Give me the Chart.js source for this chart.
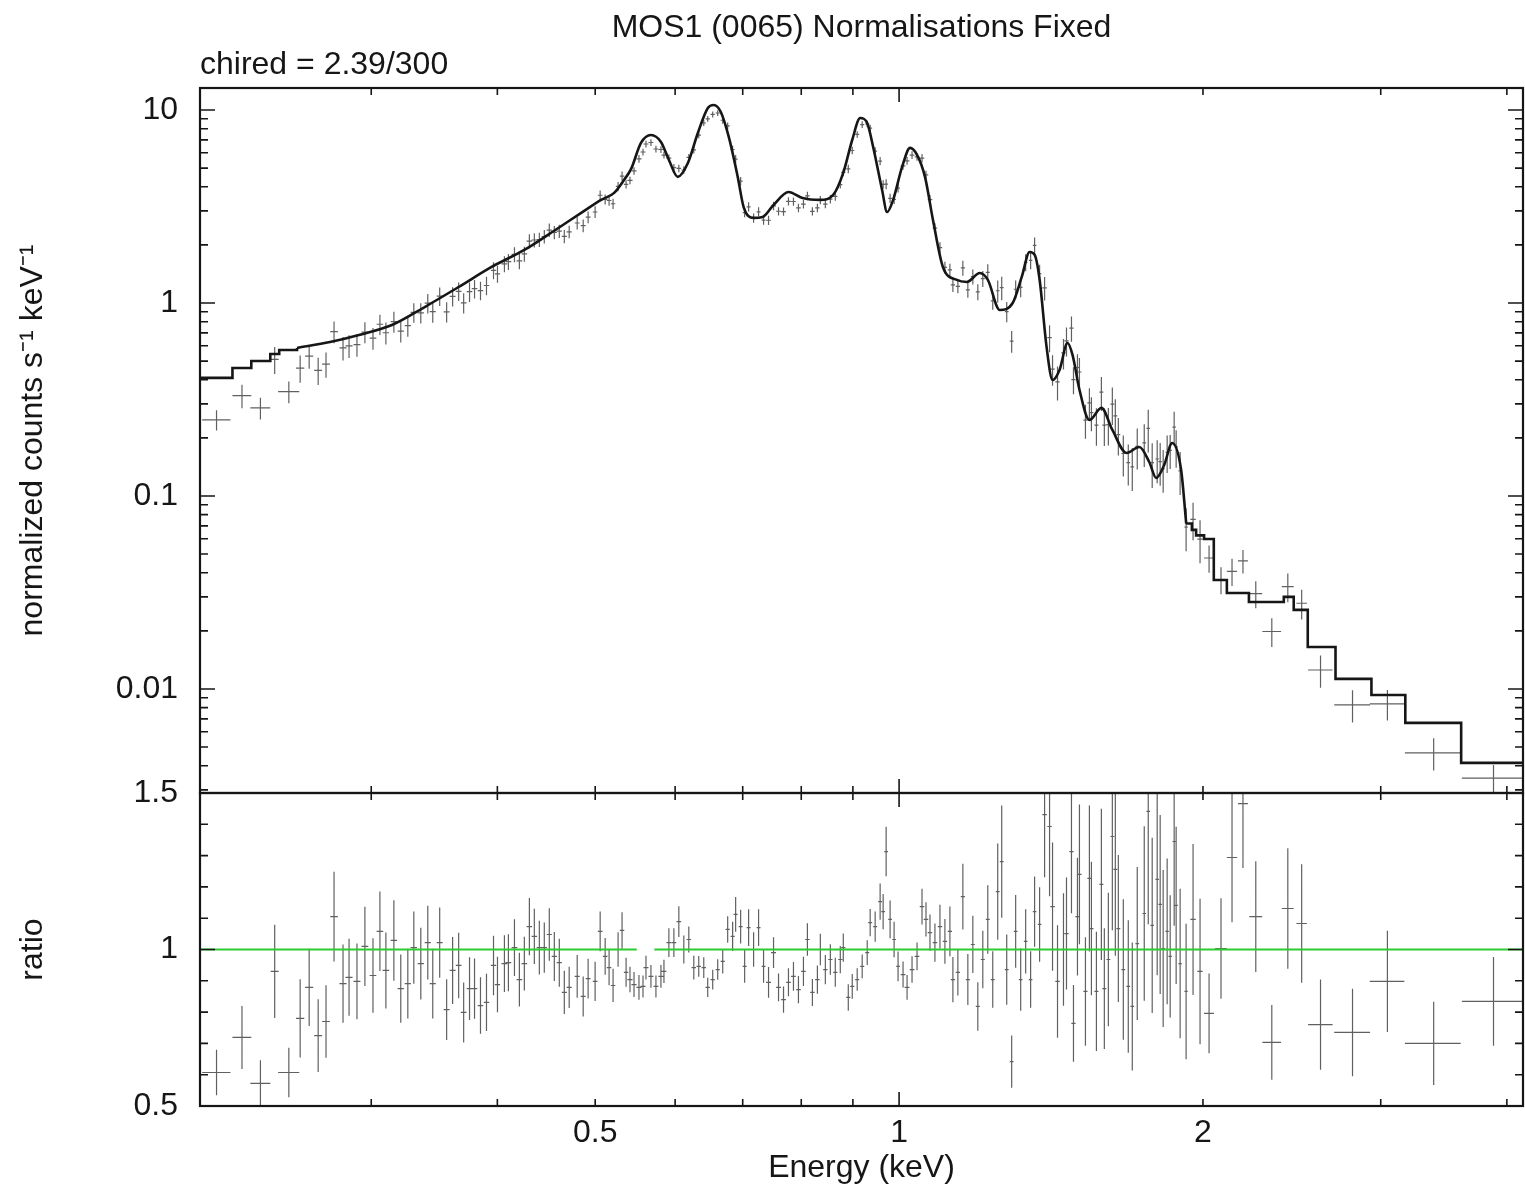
<!DOCTYPE html>
<html>
<head>
<meta charset="utf-8">
<script src="https://cdn.jsdelivr.net/npm/chart.js@4.4.1/dist/chart.umd.min.js"></script>
<style>
  html, body { margin: 0; padding: 0; background: #ffffff; }
  #wrap { width: 1525px; height: 1191px; position: relative; }
</style>
</head>
<body>
<div id="wrap"><canvas id="c" width="1525" height="1191"></canvas></div>
<script>
// ---------------- DATA ----------------
// Bin centre energies (keV)
const energy = [
  0.2108,0.2234,0.2330,0.2407,0.2486,0.2551,0.2604,0.2658,0.2706,0.2756,
  0.2813,0.2852,0.2904,0.2957,0.3012,0.3060,0.3102,0.3159,0.3209,0.3261,
  0.3306,0.3359,0.3413,0.3452,0.3507,0.3563,0.3612,0.3662,0.3704,0.3754,
  0.3797,0.3849,0.3902,0.3965,0.4001,0.4065,0.4102,0.4159,0.4206,0.4254,
  0.4303,0.4352,0.4402,0.4452,0.4503,0.4555,0.4607,0.4660,0.4712,0.4799,
  0.4865,0.4920,0.4999,0.5057,0.5115,0.5161,0.5208,0.5268,0.5316,0.5365,
  0.5413,0.5463,0.5525,0.5576,0.5614,0.5678,0.5743,0.5809,0.5849,0.5915,
  0.5983,0.6051,0.6120,0.6190,0.6261,0.6332,0.6405,0.6463,0.6537,0.6612,
  0.6688,0.6764,0.6841,0.6888,0.6967,0.7031,0.7095,0.7176,0.7258,0.7341,
  0.7425,0.7510,0.7596,0.7683,0.7770,0.7859,0.7949,0.8040,0.8113,0.8206,
  0.8300,0.8356,0.8452,0.8549,0.8646,0.8745,0.8805,0.8906,0.8987,0.9089,
  0.9193,0.9299,0.9362,0.9469,0.9577,0.9643,0.9709,0.9797,0.9887,0.9977,
  1.0091,1.0184,1.0300,1.0418,1.0537,1.0633,1.0730,1.0852,1.0977,1.1102,
  1.1229,1.1306,1.1435,1.1566,1.1698,1.1832,1.1967,1.2104,1.2242,1.2382,
  1.2523,1.2638,1.2783,1.2928,1.3046,1.3196,1.3347,1.3499,1.3622,1.3778,
  1.3936,1.4095,1.4191,1.4353,1.4550,1.4650,1.4817,1.4885,1.5021,1.5089,
  1.5297,1.5436,1.5507,1.5685,1.5863,1.5971,1.6118,1.6265,1.6376,1.6489,
  1.6677,1.6867,1.7022,1.7216,1.7493,1.7653,1.7813,1.8017,1.8140,1.8264,
  1.8431,1.8559,1.8728,1.8813,1.8985,1.9245,1.9553,1.9867,2.028,2.084,
  2.137,2.191,2.256,2.340,2.427,2.505,2.615,2.813,3.046,3.385,3.880
];
// Half bin width (keV)
const energyErr = [
  0.0068,0.0048,0.0053,0.0022,0.0060,0.0024,0.0024,0.0024,0.0024,0.0024,
  0.0023,0.0023,0.0023,0.0023,0.0023,0.0023,0.0023,0.0023,0.0023,0.0023,
  0.0024,0.0024,0.0024,0.0024,0.0024,0.0024,0.0024,0.0024,0.0024,0.0024,
  0.0024,0.0024,0.0024,0.0024,0.0024,0.0027,0.0027,0.0027,0.0027,0.0027,
  0.0027,0.0027,0.0027,0.0027,0.0027,0.0027,0.0027,0.0027,0.0027,0.0027,
  0.0027,0.0027,0.0027,0.0027,0.0027,0.0027,0.0027,0.0027,0.0027,0.0027,
  0.0032,0.0032,0.0032,0.0032,0.0032,0.0032,0.0032,0.0032,0.0032,0.0032,
  0.0032,0.0032,0.0032,0.0032,0.0032,0.0032,0.0032,0.0032,0.0032,0.0032,
  0.0032,0.0032,0.0032,0.0032,0.0032,0.0032,0.0032,0.0032,0.0032,0.0032,
  0.0042,0.0042,0.0042,0.0042,0.0042,0.0042,0.0042,0.0042,0.0042,0.0042,
  0.0042,0.0042,0.0042,0.0042,0.0042,0.0042,0.0042,0.0042,0.0042,0.0042,
  0.0042,0.0042,0.0042,0.0042,0.0042,0.0042,0.0042,0.0042,0.0042,0.0042,
  0.0055,0.0055,0.0055,0.0055,0.0055,0.0055,0.0055,0.0055,0.0055,0.0055,
  0.0055,0.0055,0.0055,0.0055,0.0055,0.0055,0.0055,0.0055,0.0055,0.0055,
  0.0055,0.0055,0.0055,0.0055,0.0055,0.0055,0.0055,0.0055,0.0055,0.0055,
  0.0072,0.0072,0.0072,0.0072,0.0072,0.0072,0.0072,0.0072,0.0072,0.0072,
  0.0072,0.0072,0.0072,0.0072,0.0072,0.0072,0.0072,0.0072,0.0072,0.0072,
  0.0072,0.0072,0.0072,0.0072,0.0072,0.0072,0.0072,0.0072,0.0072,0.0072,
  0.0072,0.0072,0.0072,0.0072,0.0072,0.0072,0.012,0.012,0.023,0.028,
  0.025,0.025,0.033,0.050,0.033,0.030,0.073,0.115,0.120,0.215,0.270
];
// Normalized counts s^-1 keV^-1 (upper panel crosses)
const counts = [
  0.248,0.331,0.286,0.510,0.347,0.460,0.530,0.448,0.482,0.710,
  0.585,0.600,0.609,0.706,0.657,0.776,0.701,0.801,0.714,0.763,
  0.893,0.889,0.998,0.902,1.085,0.900,1.083,1.149,1.002,1.144,
  1.186,1.160,1.232,1.476,1.414,1.595,1.639,1.784,1.652,1.797,
  2.094,2.120,2.133,2.211,2.387,2.322,2.358,2.215,2.338,2.596,
  2.517,2.784,2.961,3.615,3.443,3.397,3.268,4.015,4.548,4.120,
  4.315,4.833,5.586,6.058,6.665,6.783,6.279,6.240,5.840,5.629,
  5.025,4.984,4.888,5.684,6.207,7.407,8.563,9.003,9.482,9.645,
  8.850,8.282,6.240,5.568,4.282,2.939,3.150,2.757,2.968,2.688,
  2.683,3.187,2.987,2.976,3.365,3.356,3.107,3.254,3.591,2.985,
  3.108,3.418,3.256,3.450,3.569,4.101,4.745,4.951,6.169,7.469,
  8.397,8.477,8.059,6.126,5.438,4.116,4.128,3.486,3.444,3.937,
  5.128,5.454,5.843,5.716,5.625,4.616,3.434,2.442,1.937,1.530,
  1.486,1.240,1.220,1.520,1.169,1.369,1.143,1.336,1.442,1.025,
  1.157,1.200,0.903,0.634,1.178,1.204,1.624,1.661,1.988,1.421,
  1.197,0.661,0.454,0.390,0.551,0.637,0.741,0.401,0.463,0.439,
  0.2474,0.304,0.2706,0.2331,0.345,0.2327,0.234,0.299,0.260,0.208,
  0.166,0.149,0.1416,0.1806,0.1885,0.224,0.1487,0.1554,0.1505,0.1384,
  0.1685,0.1723,0.2274,0.1795,0.1350,0.0690,0.0757,0.0598,0.0477,0.0368,
  0.0407,0.0461,0.0312,0.01985,0.0339,0.0278,0.01254,0.00828,0.00836,0.00467,0.00345
];
// Data / model ratio (lower panel crosses)
const ratio = [
  0.607,0.719,0.572,0.930,0.607,0.780,0.879,0.725,0.770,1.105,
  0.891,0.911,0.898,1.010,0.917,1.058,0.933,1.029,0.875,0.891,
  1.006,0.955,1.022,0.891,1.022,0.808,0.933,0.949,0.799,0.875,
  0.875,0.821,0.831,0.949,0.888,0.955,0.958,1.006,0.904,0.955,
  1.073,1.042,1.006,1.006,1.048,0.978,0.958,0.863,0.879,0.914,
  0.850,0.907,0.898,1.058,0.978,0.942,0.885,1.000,1.061,0.927,
  0.904,0.888,0.879,0.882,0.942,0.914,0.882,0.914,0.930,1.022,
  1.022,1.089,1.000,1.032,0.942,0.946,0.942,0.879,0.904,0.936,
  0.962,1.064,1.042,1.112,1.073,0.946,1.070,1.000,1.070,0.946,
  0.895,0.990,0.879,0.840,0.895,0.914,0.872,0.930,1.032,0.863,
  0.904,1.000,0.936,0.968,0.927,0.968,1.006,0.847,0.882,0.904,
  0.946,0.990,1.086,1.073,1.153,1.121,1.313,1.096,1.032,0.946,
  0.920,0.879,0.936,0.978,1.137,1.096,1.054,1.022,1.073,1.026,
  1.058,0.904,0.927,1.169,0.904,1.016,0.818,0.968,1.096,0.904,
  1.185,1.281,0.936,0.642,1.058,0.904,1.026,0.904,1.121,1.080,
  1.431,1.393,1.137,0.898,1.000,1.051,1.313,0.764,1.105,1.240,
  0.866,1.227,1.067,0.866,1.208,0.875,0.968,1.361,1.256,1.067,
  0.936,0.882,0.818,1.019,1.115,1.441,1.077,1.224,1.144,1.003,
  1.058,0.978,1.345,1.141,0.955,0.866,1.096,0.930,0.796,1.003,
  1.294,1.466,1.105,0.703,1.131,1.083,0.760,0.735,0.898,0.700,0.834
];
// Fractional 1-sigma error of each bin (same for both panels)
const relErr = [
  0.12,0.14,0.13,0.16,0.13,0.16,0.14,0.16,0.15,0.13,
  0.14,0.135,0.135,0.125,0.13,0.12,0.13,0.125,0.125,0.125,
  0.115,0.12,0.115,0.125,0.11,0.12,0.115,0.11,0.12,0.115,
  0.11,0.11,0.11,0.10,0.10,0.095,0.095,0.09,0.095,0.09,
  0.085,0.085,0.085,0.08,0.08,0.08,0.08,0.08,0.075,0.075,
  0.075,0.07,0.07,0.06,0.06,0.06,0.06,0.055,0.055,0.05,
  0.045,0.045,0.045,0.04,0.04,0.04,0.04,0.04,0.04,0.045,
  0.045,0.045,0.045,0.04,0.04,0.035,0.035,0.035,0.035,0.035,
  0.04,0.04,0.045,0.05,0.05,0.055,0.055,0.055,0.055,0.055,
  0.055,0.05,0.05,0.05,0.05,0.05,0.05,0.05,0.05,0.05,
  0.05,0.05,0.05,0.05,0.05,0.045,0.045,0.05,0.045,0.04,
  0.04,0.04,0.04,0.045,0.05,0.05,0.06,0.055,0.055,0.05,
  0.045,0.045,0.045,0.045,0.05,0.05,0.055,0.06,0.065,0.07,
  0.075,0.08,0.08,0.09,0.09,0.09,0.095,0.095,0.10,0.10,
  0.13,0.14,0.12,0.13,0.11,0.11,0.10,0.10,0.10,0.11,
  0.14,0.16,0.18,0.20,0.18,0.17,0.15,0.16,0.17,0.18,
  0.20,0.19,0.20,0.22,0.20,0.22,0.22,0.22,0.22,0.22,
  0.24,0.24,0.25,0.24,0.25,0.25,0.26,0.25,0.25,0.25,
  0.22,0.20,0.20,0.22,0.25,0.25,0.22,0.25,0.16,0.16,
  0.16,0.14,0.16,0.17,0.17,0.175,0.19,0.19,0.18,0.19,0.17
];
// Model: wide low-energy bins (left edges + value), drawn as steps
const modelLoEdges  = [0.2032, 0.2186, 0.2282, 0.2383, 0.2432, 0.2533];
const modelLoValues = [0.409, 0.460, 0.5005, 0.544, 0.571, 0.585];
// Model: finely binned middle part
const modelMidE = [
  0.2533,0.2731,0.2917,0.3145,0.3389,0.3662,0.3948,0.4254,0.4597,0.4843,
  0.5068,0.5221,0.5340,0.5427,0.5550,0.5678,0.5809,0.5916,0.6036,0.6177,
  0.6319,0.6465,0.6553,0.6659,0.6781,0.6921,0.7015,0.7176,0.7325,0.7510,
  0.7771,0.8021,0.8354,0.8605,0.8804,0.8986,0.9152,0.9298,0.9426,0.9620,
  0.9731,0.9865,1.0069,1.0254,1.0418,1.0609,1.0804,1.1051,1.1410,1.1671,
  1.2023,1.2244,1.2581,1.2958,1.3226,1.3469,1.3625,1.3780,1.3999,1.4191,
  1.4419,1.4684,1.4853,1.5092,1.5437,1.5865,1.6267,1.6797,1.7298,1.7693,
  1.7977,1.8307,1.8643,1.9028,1.925
];
const modelMidV = [
  0.585,0.628,0.683,0.769,0.953,1.210,1.537,1.882,2.447,2.930,
  3.420,3.720,4.340,4.950,6.750,7.420,6.830,5.510,4.500,5.310,
  7.600,10.24,10.61,9.76,7.25,4.50,3.14,2.76,2.79,3.22,
  3.76,3.50,3.42,3.63,4.72,6.99,9.09,8.56,6.43,3.85,
  2.96,3.42,5.07,6.36,5.85,4.50,2.69,1.537,1.316,1.285,
  1.430,1.316,0.920,1.000,1.360,1.837,1.773,1.316,0.592,0.399,
  0.450,0.620,0.538,0.354,0.2476,0.286,0.2198,0.167,0.1794,0.150,
  0.124,0.1447,0.1882,0.1364,0.072
];
// Model: wide high-energy bins (left edges + value), drawn as steps
const modelHiEdges  = [1.925, 1.950, 1.969, 2.005, 2.050, 2.112, 2.221, 2.405, 2.460, 2.540, 2.706, 2.937, 3.173, 3.604, 4.150];
const modelHiValues = [0.0720, 0.0667, 0.0625, 0.0598, 0.0367, 0.0314, 0.0282, 0.0300, 0.0257, 0.0165, 0.01128, 0.00931, 0.00667, 0.00414, 0.00414];
// Unity line of the ratio panel (with the short break seen in the picture)
const unityE = [0.203, 0.5497, 0.5600, 0.5722, 4.15];
const unityV = [1, 1, null, 1, 1];

// Axis ranges & ticks
const xMin = 0.203, xMax = 4.15;
const yMin = 0.00289, yMax = 13.0;
const rMin = 0.5, rMax = 1.5;
const xTickValues = [0.3, 0.4, 0.5, 0.6, 0.7, 0.8, 0.9, 1, 2, 3, 4];
const xTickLabels = { '0.5': '0.5', '1': '1', '2': '2' };
const xMajorTicks = [1];
const yTickValues = [10, 1, 0.1, 0.01];
const yTickLabels = ['10', '1', '0.1', '0.01'];
const ratioTickValues = [1.5, 1, 0.5];
const ratioTickLabels = ['1.5', '1', '0.5'];

const titleText = 'MOS1 (0065) Normalisations Fixed';
const subtitleText = 'chired = 2.39/300';
const xTitle = 'Energy (keV)';
const yTitle = 'normalized counts s\u207B\u00B9 keV\u207B\u00B9';
const rTitle = 'ratio';

// ---------------- STYLE ----------------
const FONT = "'Liberation Sans', Arial, Helvetica, sans-serif";
const INK = '#161616';

function near(a, b) { return Math.abs(a - b) <= 1e-6 * Math.max(Math.abs(a), Math.abs(b)); }

// all minor+major tick positions for the log count axis
const yAllTicks = [];
[0.001, 0.01, 0.1, 1, 10].forEach(dec => {
  for (let m = 1; m <= 9; m++) {
    const v = +(m * dec).toPrecision(6);
    if (v >= yMin && v <= yMax) yAllTicks.push(v);
  }
});
const rAllTicks = [];
for (let k = 5; k <= 15; k++) rAllTicks.push(k / 10);

const errorBars = {
  id: 'errorBars',
  beforeDatasetsDraw(chart) {
    const { ctx, chartArea } = chart;
    const xs = chart.scales.x;
    const drawSet = (dsIndex, yScale, values) => {
      const meta = chart.getDatasetMeta(dsIndex);
      ctx.save();
      ctx.beginPath();
      ctx.rect(chartArea.left, yScale.top, chartArea.right - chartArea.left, yScale.bottom - yScale.top);
      ctx.clip();
      ctx.strokeStyle = 'rgba(20,20,20,0.68)';
      ctx.lineWidth = 1.2;
      ctx.beginPath();
      meta.data.forEach((pt, i) => {
        const v = values[i];
        const yHi = yScale.getPixelForValue(v * (1 + relErr[i]));
        const yLo = yScale.getPixelForValue(v * (1 - relErr[i]));
        const xl = xs.getPixelForValue(energy[i] - energyErr[i]);
        const xr = xs.getPixelForValue(energy[i] + energyErr[i]);
        ctx.moveTo(pt.x, yHi); ctx.lineTo(pt.x, yLo);
        ctx.moveTo(xl, pt.y); ctx.lineTo(xr, pt.y);
      });
      ctx.stroke();
      ctx.restore();
    };
    drawSet(0, chart.scales.y, counts);
    drawSet(1, chart.scales.y2, ratio);
  }
};

const frameAndTicks = {
  id: 'frameAndTicks',
  afterDatasetsDraw(chart) {
    const { ctx, chartArea } = chart;
    const x = chart.scales.x, y = chart.scales.y, r = chart.scales.y2;
    const L = chartArea.left, R = chartArea.right;
    ctx.save();
    ctx.strokeStyle = INK;
    ctx.lineWidth = 1.6;
    ctx.beginPath();
    x.ticks.forEach(t => {
      const px = x.getPixelForValue(t.value);
      const len = xMajorTicks.some(m => near(m, t.value)) ? 14 : 7;
      [[y.top, 1], [y.bottom, -1], [r.top, 1], [r.bottom, -1]].forEach(([edge, dir]) => {
        ctx.moveTo(px, edge); ctx.lineTo(px, edge + dir * len);
      });
    });
    const drawY = (scale, majors) => scale.ticks.forEach(t => {
      const py = scale.getPixelForValue(t.value);
      const len = majors.some(m => near(m, t.value)) ? 15 : 8;
      ctx.moveTo(L, py); ctx.lineTo(L + len, py);
      ctx.moveTo(R, py); ctx.lineTo(R - len, py);
    });
    drawY(y, yTickValues);
    drawY(r, ratioTickValues);
    ctx.stroke();
    ctx.lineWidth = 2.2;
    ctx.strokeRect(L, y.top, R - L, y.bottom - y.top);
    ctx.strokeRect(L, r.top, R - L, r.bottom - r.top);
    ctx.restore();
  }
};

const tickFont = { family: FONT, size: 32, lineHeight: 1 };
const modelStyle = { borderColor: INK, borderWidth: 2.6, pointRadius: 0, fill: false, showLine: true, yAxisID: 'y' };

new Chart(document.getElementById('c'), {
  type: 'line',
  data: {
    datasets: [
      { label: 'data', data: energy.map((e, i) => ({ x: e, y: counts[i] })), yAxisID: 'y',
        showLine: false, pointRadius: 0, pointHoverRadius: 0 },
      { label: 'ratio', data: energy.map((e, i) => ({ x: e, y: ratio[i] })), yAxisID: 'y2',
        showLine: false, pointRadius: 0, pointHoverRadius: 0 },
      Object.assign({ label: 'model low', data: modelLoEdges.map((e, i) => ({ x: e, y: modelLoValues[i] })), stepped: 'before' }, modelStyle),
      Object.assign({ label: 'model', data: modelMidE.map((e, i) => ({ x: e, y: modelMidV[i] })), cubicInterpolationMode: 'monotone' }, modelStyle),
      Object.assign({ label: 'model high', data: modelHiEdges.map((e, i) => ({ x: e, y: modelHiValues[i] })), stepped: 'before' }, modelStyle),
      { label: 'unity', data: unityE.map((e, i) => ({ x: e, y: unityV[i] })), yAxisID: 'y2',
        borderColor: '#2ecc2e', borderWidth: 1.9, pointRadius: 0, showLine: true, spanGaps: false }
    ]
  },
  options: {
    responsive: false,
    animation: false,
    events: [],
    layout: { padding: { left: 0, right: 2, top: 0, bottom: 0 } },
    plugins: {
      legend: { display: false },
      tooltip: { enabled: false },
      title: { display: true, text: titleText, fullSize: false, align: 'center', color: INK,
        font: { family: FONT, size: 32, weight: 'normal', lineHeight: 1.15 }, padding: { top: 10, bottom: 0 } },
      subtitle: { display: true, text: subtitleText, fullSize: false, align: 'start', color: INK,
        font: { family: FONT, size: 32, weight: 'normal', lineHeight: 1.15 }, padding: { top: 0, bottom: 4.4 } }
    },
    scales: {
      x: {
        type: 'logarithmic', position: 'bottom', min: xMin, max: xMax,
        grid: { display: false, drawTicks: false }, border: { display: false },
        afterBuildTicks: s => { s.ticks = xTickValues.map(v => ({ value: v })); },
        afterFit: s => { s.height = 85; },
        ticks: { autoSkip: false, maxRotation: 0, minRotation: 0, padding: 11, color: INK, font: tickFont,
          callback: v => xTickLabels[String(+v.toPrecision(6))] || '' },
        title: { display: true, text: xTitle, color: INK, font: { family: FONT, size: 32, lineHeight: 1 },
          padding: { top: 0, bottom: 7 } }
      },
      y: {
        type: 'logarithmic', position: 'left', min: yMin, max: yMax,
        stack: 'panels', stackWeight: 705, weight: 1,
        grid: { display: false, drawTicks: false }, border: { display: false },
        afterBuildTicks: s => { s.ticks = yAllTicks.map(v => ({ value: v })); },
        afterFit: s => { s.width = 200; },
        ticks: { autoSkip: false, padding: 22, color: INK, font: tickFont,
          callback: v => { const k = yTickValues.findIndex(t => near(t, v)); return k >= 0 ? yTickLabels[k] : ''; } },
        title: { display: true, text: yTitle, color: INK, font: { family: FONT, size: 32, lineHeight: 1 },
          padding: { top: 17, bottom: 0 } }
      },
      y2: {
        type: 'linear', position: 'left', min: rMin, max: rMax,
        stack: 'panels', stackWeight: 313, weight: 0,
        grid: { display: false, drawTicks: false }, border: { display: false },
        afterBuildTicks: s => { s.ticks = rAllTicks.map(v => ({ value: v })); },
        afterFit: s => { s.width = 200; },
        ticks: { autoSkip: false, padding: 22, color: INK, font: tickFont,
          callback: v => { const k = ratioTickValues.findIndex(t => near(t, v)); return k >= 0 ? ratioTickLabels[k] : ''; } },
        title: { display: true, text: rTitle, color: INK, font: { family: FONT, size: 32, lineHeight: 1 },
          padding: { top: 17, bottom: 0 } }
      }
    }
  },
  plugins: [errorBars, frameAndTicks]
});
</script>
</body>
</html>
